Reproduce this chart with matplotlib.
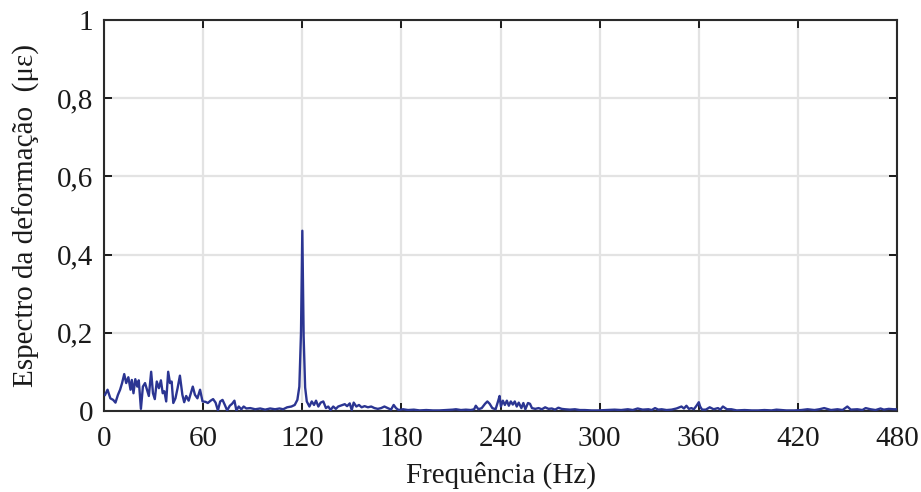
import matplotlib
matplotlib.use("Agg")
import matplotlib.pyplot as plt

plt.rcParams["font.family"] = ["Liberation Serif", "DejaVu Serif"]

# strain spectrum (Hz, micro-strain)
freq = [0.6, 2.1, 3.8, 5.5, 6.9, 8.4, 9.7, 10.9, 12.2, 13.4, 14.7, 16.0, 16.8, 17.8,
        18.9, 20.1, 21.0, 22.3, 23.5, 24.8, 26.0, 27.1, 28.5, 29.6, 30.7, 31.9, 33.2,
        34.4, 35.5, 36.5, 37.6, 38.8, 39.9, 40.9, 41.9, 43.2, 44.5, 45.9, 47.4, 48.5,
        49.7, 51.2, 52.5, 53.7, 55.0, 56.5, 58.1, 59.6,
        61.4, 62.8, 64.5, 66.0, 67.5, 68.9, 70.3, 71.7, 73.1, 74.5, 76.1, 77.5, 78.9,
        80.1, 81.5, 83.1, 84.5, 86.1, 88.5, 91.5, 94.5, 97.5, 100.5, 103.5, 106.2,
        108.4, 110.8, 113.4, 115.4, 117.0, 118.2, 119.2, 120.0, 120.8, 121.7,
        122.7, 124.3, 125.7, 127.1, 128.3, 129.7, 131.1, 132.7, 134.3, 135.7, 137.1,
        138.7, 140.3, 141.7, 143.7, 145.7, 147.1, 148.7, 149.9, 151.1, 152.7, 154.3,
        155.9, 157.7, 159.7, 161.7, 163.7, 165.7, 167.7, 169.7, 171.7, 173.7, 175.3,
        176.7, 178.3, 181.0, 184.0, 187.5, 191.0, 195.0, 199.0, 203.0, 207.0, 211.0,
        213.0, 216.0, 219.0, 222.0, 224.0, 225.0, 226.6, 228.6, 230.6, 232.0, 233.4,
        235.0, 237.0, 238.6, 239.4, 240.2, 241.4, 242.6, 243.8, 245.0, 246.2, 247.4,
        248.6, 249.8, 251.0, 252.6, 253.8, 255.0, 256.6, 257.8, 259.0, 261.0, 263.0,
        265.0, 267.0, 269.0, 271.0, 273.0, 275.0, 277.0, 279.0, 282.0, 285.0, 288.0,
        291.0, 295.0, 299.0, 304.0, 309.0, 313.0, 317.0, 320.0, 323.0, 326.0, 329.5,
        331.5, 333.5, 335.5, 337.5, 340.5, 343.5, 346.5, 349.5, 351.0, 352.5, 354.0,
        355.5, 357.0, 358.6, 360.0, 360.8, 362.0, 364.2, 366.6, 369.0, 371.6, 373.0,
        374.6, 377.0, 379.7, 383.0, 387.7, 392.0, 396.0, 399.7, 404.0, 407.0, 409.8,
        413.0, 417.8, 422.0, 425.8, 430.0, 433.0, 435.9, 440.0, 443.9, 447.0, 449.9,
        452.0, 455.9, 459.0, 461.0, 463.9, 467.0, 470.0, 472.0, 475.0, 478.0, 480.0]
amp = [0.041, 0.054, 0.032, 0.028, 0.021, 0.041, 0.054, 0.071, 0.094, 0.071, 0.086, 0.054,
       0.079, 0.045, 0.081, 0.062, 0.078, 0.005, 0.062, 0.071, 0.054, 0.038, 0.100, 0.045,
       0.030, 0.075, 0.058, 0.078, 0.045, 0.050, 0.024, 0.100, 0.071, 0.075, 0.020, 0.032,
       0.058, 0.090, 0.041, 0.022, 0.038, 0.026, 0.045, 0.062, 0.041, 0.032, 0.054, 0.024,
       0.023, 0.020, 0.026, 0.030, 0.021, 0.001, 0.024, 0.028, 0.015, 0.001, 0.013, 0.018,
       0.026, 0.001, 0.011, 0.004, 0.011, 0.006, 0.007, 0.004, 0.006, 0.003, 0.006, 0.004,
       0.006, 0.004, 0.009, 0.011, 0.015, 0.028, 0.062, 0.200, 0.461, 0.190, 0.060,
       0.024, 0.011, 0.024, 0.015, 0.026, 0.011, 0.021, 0.024, 0.007, 0.011, 0.002,
       0.011, 0.005, 0.011, 0.014, 0.017, 0.012, 0.019, 0.002, 0.021, 0.011, 0.015,
       0.009, 0.012, 0.009, 0.011, 0.007, 0.005, 0.007, 0.011, 0.007, 0.003, 0.015,
       0.007, 0.002, 0.004, 0.002, 0.003, 0.001, 0.002, 0.001, 0.001, 0.002, 0.003,
       0.004, 0.002, 0.003, 0.002, 0.004, 0.013, 0.004, 0.007, 0.018, 0.024, 0.018,
       0.007, 0.004, 0.026, 0.038, 0.011, 0.026, 0.015, 0.026, 0.013, 0.024, 0.016,
       0.024, 0.011, 0.021, 0.007, 0.020, 0.004, 0.020, 0.018, 0.007, 0.005, 0.007,
       0.004, 0.009, 0.005, 0.006, 0.003, 0.008, 0.005, 0.004, 0.003, 0.004, 0.002,
       0.002, 0.001, 0.001, 0.002, 0.003, 0.002, 0.004, 0.002, 0.006, 0.003, 0.004,
       0.002, 0.007, 0.003, 0.004, 0.002, 0.003, 0.006, 0.011, 0.006, 0.013, 0.005,
       0.007, 0.004, 0.013, 0.022, 0.011, 0.003, 0.003, 0.009, 0.004, 0.007, 0.003,
       0.011, 0.004, 0.004, 0.001, 0.002, 0.001, 0.001, 0.002, 0.001, 0.003, 0.002,
       0.001, 0.001, 0.002, 0.004, 0.002, 0.004, 0.007, 0.002, 0.004, 0.002, 0.011,
       0.003, 0.004, 0.002, 0.007, 0.004, 0.002, 0.006, 0.003, 0.005, 0.004, 0.004]

xticks = [0, 60, 120, 180, 240, 300, 360, 420, 480]
yticks = [0, 0.2, 0.4, 0.6, 0.8, 1.0]
ylabels = ["0", "0,2", "0,4", "0,6", "0,8", "1"]

fig = plt.figure(figsize=(9.21, 4.92), dpi=100)
ax = fig.add_axes([0.113, 0.165, 0.861, 0.794])

ax.plot(freq, amp, color="#2b3592", lw=1.7, zorder=3)

ax.set_xlim(0, 480)
ax.set_ylim(0, 1)
ax.set_xticks(xticks)
ax.set_xticklabels([str(t) for t in xticks])
ax.set_yticks(yticks)
ax.set_yticklabels(ylabels)
ax.grid(True, color="#e3e3e3", lw=1.6, zorder=0)
ax.set_axisbelow(True)

ax.tick_params(direction="in", length=6, width=1.4, labelsize=21, colors="#1a1a1a",
               top=True, right=True)
ax.tick_params(axis="x", pad=11)
ax.tick_params(axis="y", pad=8)
for s in ax.spines.values():
    s.set_linewidth(1.5)
    s.set_color("#2a2a2a")

ax.set_xlabel("Frequência (Hz)", fontsize=21, color="#1a1a1a", labelpad=7)
ax.set_ylabel("Espectro da deformação  (με)", fontsize=21, color="#1a1a1a", labelpad=12)

fig.savefig("out.png", dpi=100)
